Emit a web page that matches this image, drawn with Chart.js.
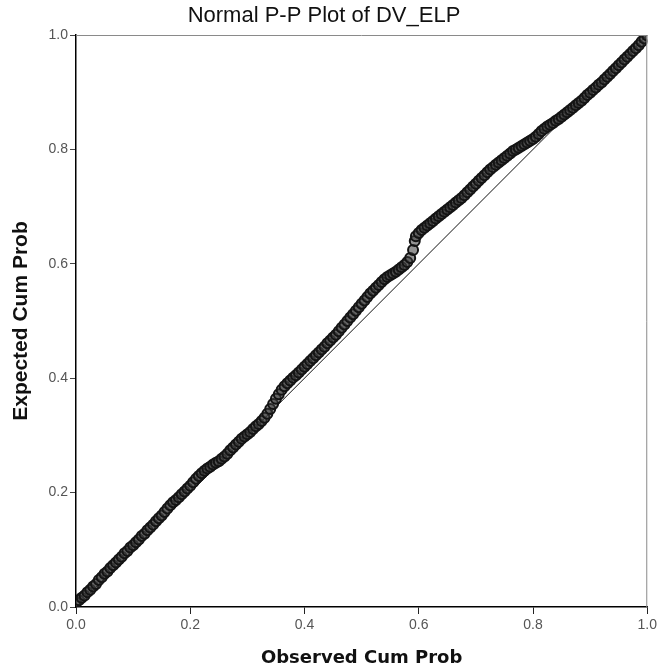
<!DOCTYPE html>
<html>
<head>
<meta charset="utf-8">
<script src="https://cdn.jsdelivr.net/npm/chart.js@4.4.0/dist/chart.umd.min.js"></script>
<style>
  html, body { margin: 0; padding: 0; background: #fff; }
  #wrap { width: 660px; height: 671px; }
</style>
</head>
<body>
<div id="wrap"><canvas id="ppPlot" width="660" height="671"></canvas></div>
<script>
// ---- datos (P-P normal de DV_ELP) ----
const chartTitle = 'Normal P-P Plot of DV_ELP';
const xTitle = 'Observed Cum Prob';
const yTitle = 'Expected Cum Prob';
const tickValues = [0, 0.2, 0.4, 0.6, 0.8, 1.0];

// probabilidad acumulada observada
const observed = [
  0.000, 0.005, 0.010, 0.015, 0.020, 0.025, 0.030, 0.035, 0.040, 0.045,
  0.050, 0.055, 0.060, 0.065, 0.070, 0.075, 0.080, 0.085, 0.090, 0.095,
  0.100, 0.105, 0.110, 0.115, 0.120, 0.125, 0.130, 0.135, 0.140, 0.145,
  0.150, 0.155, 0.160, 0.165, 0.170, 0.175, 0.180, 0.185, 0.190, 0.195,
  0.200, 0.205, 0.210, 0.215, 0.220, 0.225, 0.230, 0.235, 0.240, 0.245,
  0.250, 0.255, 0.260, 0.265, 0.270, 0.275, 0.280, 0.285, 0.290, 0.295,
  0.300, 0.305, 0.310, 0.315, 0.320, 0.325, 0.330, 0.335, 0.340, 0.345,
  0.350, 0.355, 0.360, 0.365, 0.370, 0.375, 0.380, 0.385, 0.390, 0.395,
  0.400, 0.405, 0.410, 0.415, 0.420, 0.425, 0.430, 0.435, 0.440, 0.445,
  0.450, 0.455, 0.460, 0.465, 0.470, 0.475, 0.480, 0.485, 0.490, 0.495,
  0.500, 0.505, 0.510, 0.515, 0.520, 0.525, 0.530, 0.535, 0.540, 0.545,
  0.550, 0.555, 0.560, 0.565, 0.570, 0.575, 0.580, 0.585, 0.590, 0.593,
  0.595, 0.600, 0.605, 0.610, 0.615, 0.620, 0.625, 0.630, 0.635, 0.640,
  0.645, 0.650, 0.655, 0.660, 0.665, 0.670, 0.675, 0.680, 0.685, 0.690,
  0.695, 0.700, 0.705, 0.710, 0.715, 0.720, 0.725, 0.730, 0.735, 0.740,
  0.745, 0.750, 0.755, 0.760, 0.765, 0.770, 0.775, 0.780, 0.785, 0.790,
  0.795, 0.800, 0.805, 0.810, 0.815, 0.820, 0.825, 0.830, 0.835, 0.840,
  0.845, 0.850, 0.855, 0.860, 0.865, 0.870, 0.875, 0.880, 0.885, 0.890,
  0.895, 0.900, 0.905, 0.910, 0.915, 0.920, 0.925, 0.930, 0.935, 0.940,
  0.945, 0.950, 0.955, 0.960, 0.965, 0.970, 0.975, 0.980, 0.985, 0.990,
  0.995, 1.000
];

// probabilidad acumulada esperada
const expected = [
  0.008, 0.012, 0.016, 0.020, 0.026, 0.030, 0.036, 0.040, 0.047, 0.052,
  0.058, 0.062, 0.068, 0.073, 0.078, 0.083, 0.088, 0.094, 0.098, 0.104,
  0.108, 0.113, 0.118, 0.124, 0.128, 0.134, 0.139, 0.144, 0.150, 0.155,
  0.160, 0.166, 0.172, 0.178, 0.183, 0.187, 0.192, 0.197, 0.202, 0.207,
  0.212, 0.218, 0.224, 0.229, 0.234, 0.238, 0.242, 0.245, 0.249, 0.252,
  0.255, 0.259, 0.263, 0.268, 0.274, 0.279, 0.284, 0.289, 0.294, 0.298,
  0.302, 0.306, 0.311, 0.316, 0.320, 0.325, 0.331, 0.338, 0.346, 0.355,
  0.364, 0.372, 0.380, 0.386, 0.391, 0.396, 0.401, 0.405, 0.410, 0.415,
  0.420, 0.425, 0.430, 0.435, 0.440, 0.445, 0.450, 0.455, 0.461, 0.466,
  0.471, 0.476, 0.482, 0.488, 0.494, 0.500, 0.506, 0.512, 0.518, 0.524,
  0.530, 0.536, 0.542, 0.548, 0.553, 0.558, 0.563, 0.568, 0.573, 0.577,
  0.580, 0.583, 0.586, 0.590, 0.594, 0.598, 0.603, 0.610, 0.624, 0.640,
  0.648, 0.654, 0.659, 0.663, 0.667, 0.671, 0.675, 0.679, 0.683, 0.687,
  0.691, 0.695, 0.699, 0.703, 0.707, 0.711, 0.715, 0.720, 0.725, 0.730,
  0.735, 0.740, 0.745, 0.750, 0.755, 0.760, 0.765, 0.769, 0.773, 0.777,
  0.781, 0.785, 0.789, 0.793, 0.797, 0.800, 0.803, 0.806, 0.809, 0.812,
  0.815, 0.818, 0.822, 0.827, 0.832, 0.836, 0.840, 0.843, 0.846, 0.850,
  0.853, 0.857, 0.861, 0.865, 0.869, 0.873, 0.877, 0.881, 0.885, 0.890,
  0.895, 0.899, 0.904, 0.908, 0.913, 0.917, 0.922, 0.927, 0.932, 0.937,
  0.942, 0.947, 0.952, 0.957, 0.962, 0.967, 0.972, 0.977, 0.982, 0.988,
  0.994, 0.999
];

// linea de referencia (diagonal)
const refLineX = [0, 1];
const refLineY = [0, 1];

// marco superior y derecho (el grafico original tiene caja)
const marcoPlugin = {
  id: 'marco',
  afterDraw(chart) {
    const { ctx, chartArea: a } = chart;
    ctx.save();
    ctx.strokeStyle = '#8a8a8a';
    ctx.lineWidth = 1;
    ctx.beginPath();
    ctx.moveTo(a.left, a.top + 0.5);
    ctx.lineTo(a.right - 0.5, a.top + 0.5);
    ctx.lineTo(a.right - 0.5, a.bottom);
    ctx.stroke();
    ctx.restore();
  }
};

const puntos = observed.map((x, i) => ({ x: x, y: expected[i] }));
const diagonal = refLineX.map((x, i) => ({ x: x, y: refLineY[i] }));

const fmt = v => Number(v).toFixed(1);

new Chart(document.getElementById('ppPlot').getContext('2d'), {
  type: 'scatter',
  data: {
    datasets: [
      {
        type: 'line',
        data: diagonal,
        borderColor: '#111',
        borderWidth: 1,
        pointRadius: 0,
        fill: false,
        order: 2
      },
      {
        data: puntos,
        pointRadius: 5,
        pointBorderWidth: 2,
        borderColor: '#141414',
        backgroundColor: 'rgba(60,60,60,0.55)',
        order: 1
      }
    ]
  },
  options: {
    responsive: false,
    animation: false,
    layout: { padding: { left: 0, right: 12, top: 0, bottom: 0 } },
    plugins: {
      legend: { display: false },
      tooltip: { enabled: false },
      title: {
        display: true,
        text: chartTitle,
        color: '#111',
        font: { family: 'Liberation Sans', size: 22, weight: 'normal', lineHeight: 1.1 },
        padding: { top: 4, bottom: 6.8 }
      }
    },
    scales: {
      x: {
        type: 'linear',
        min: 0, max: 1,
        afterBuildTicks: s => { s.ticks = tickValues.map(v => ({ value: v })); },
        ticks: {
          callback: fmt,
          color: '#555',
          font: { family: 'Liberation Sans', size: 14 },
          padding: 3,
          maxRotation: 0
        },
        grid: { drawOnChartArea: false, drawTicks: true, tickLength: 7, color: '#222' },
        border: { display: true, color: '#000', width: 1.5 },
        title: {
          display: true,
          text: xTitle,
          color: '#111',
          font: { family: 'DejaVu Sans', size: 18, weight: 'bold', lineHeight: 1.2 },
          padding: { top: 0, bottom: 2 }
        },
        afterFit: s => { s.height = 64; }
      },
      y: {
        type: 'linear',
        min: 0, max: 1,
        afterBuildTicks: s => { s.ticks = tickValues.map(v => ({ value: v })); },
        ticks: {
          callback: fmt,
          color: '#555',
          font: { family: 'Liberation Sans', size: 14 },
          padding: 2
        },
        grid: { drawOnChartArea: false, drawTicks: true, tickLength: 6, color: '#444' },
        border: { display: true, color: '#000', width: 1.5 },
        title: {
          display: true,
          text: yTitle,
          color: '#111',
          font: { family: 'Liberation Sans', size: 21, weight: 'bold', lineHeight: 1.2 },
          padding: { top: 9, bottom: 0 }
        },
        afterFit: s => { s.width = 76; }
      }
    }
  },
  plugins: [marcoPlugin]
});
</script>
</body>
</html>
